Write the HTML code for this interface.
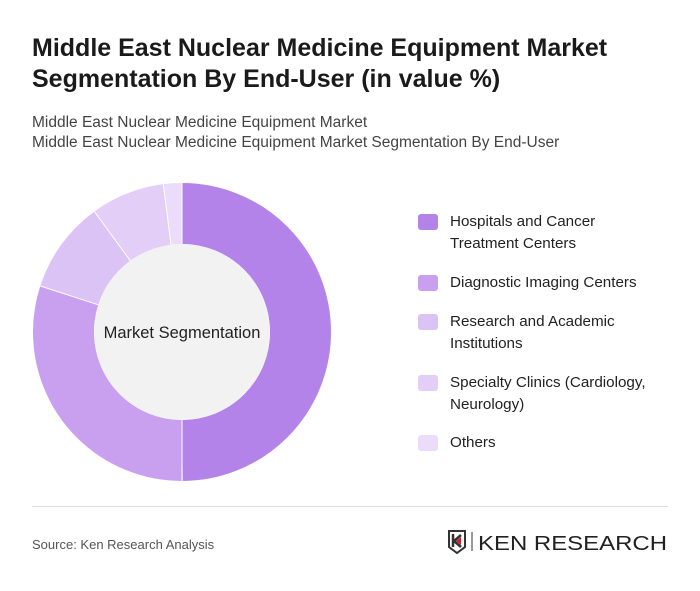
<!DOCTYPE html>
<html><head><meta charset="utf-8"><style>
body{margin:0;background:#fff;font-family:"Liberation Sans",sans-serif;}
.wrap{position:relative;width:700px;height:591px;overflow:hidden;}
h1{position:absolute;left:32px;top:33px;margin:0;font-size:25px;line-height:31px;font-weight:bold;color:#1a1a1a;letter-spacing:0;}
.sub{position:absolute;left:32px;top:113px;font-size:15.5px;line-height:20px;color:#444;}
.leg{position:absolute;left:418px;font-size:15.2px;line-height:22px;color:#222;}
.leg i{position:absolute;left:0;top:3px;width:20px;height:16px;border-radius:3px;}
.leg span{display:block;margin-left:32px;}
.src{position:absolute;left:32px;top:537px;font-size:13px;color:#555;}
.hr{position:absolute;left:32px;top:506px;width:636px;height:1px;background:#ddd;}
</style></head><body><div class="wrap">
<h1>Middle East Nuclear Medicine Equipment Market<br>Segmentation By End-User (in value %)</h1>
<div class="sub">Middle East Nuclear Medicine Equipment Market<br>Middle East Nuclear Medicine Equipment Market Segmentation By End-User</div>
<svg width="700" height="591" style="position:absolute;left:0;top:0">
<g transform="rotate(-90 182 332)" fill="none" stroke-width="61">
<circle cx="182" cy="332" r="118.5" pathLength="100" stroke="#b383ea" stroke-dasharray="50 100" stroke-dashoffset="0"/>
<circle cx="182" cy="332" r="118.5" pathLength="100" stroke="#c9a0ef" stroke-dasharray="30 100" stroke-dashoffset="-50"/>
<circle cx="182" cy="332" r="118.5" pathLength="100" stroke="#dbc3f5" stroke-dasharray="10 100" stroke-dashoffset="-80"/>
<circle cx="182" cy="332" r="118.5" pathLength="100" stroke="#e2cef7" stroke-dasharray="8 100" stroke-dashoffset="-90"/>
<circle cx="182" cy="332" r="118.5" pathLength="100" stroke="#ebdcf9" stroke-dasharray="2 100" stroke-dashoffset="-98"/>
</g>
<g stroke="#fff" stroke-width="1">
<line x1="182" y1="183" x2="182" y2="244"/><line x1="182" y1="420" x2="182" y2="481"/>
<line x1="40.3" y1="286" x2="98.3" y2="304.8"/><line x1="94.4" y1="211.5" x2="130.3" y2="260.8"/>
<line x1="163.3" y1="184.2" x2="171" y2="244.7"/>
</g>
<circle cx="182" cy="332" r="88" fill="#f2f2f2"/>
<text x="182" y="338" text-anchor="middle" font-size="16.5" fill="#222" font-family="Liberation Sans,sans-serif">Market Segmentation</text>
<g transform="translate(449,531)">
<path d="M0 0h16v16l-8 6-8-6z" fill="none" stroke="#333" stroke-width="2"/>
<path d="M4 3v13M5 10l7-6M5 10l7 6" stroke="#333" stroke-width="2.5" fill="none"/>
<path d="M7 10l5-4v8z" fill="#d0202a"/>
<line x1="23" y1="1" x2="23" y2="20" stroke="#333" stroke-width="1"/>
<text x="29" y="19" font-size="20" fill="#222" font-family="Liberation Sans,sans-serif" textLength="189" lengthAdjust="spacingAndGlyphs">KEN RESEARCH</text>
</g>
</svg>
<div class="leg" style="top:211px"><i style="background:#b383ea"></i><span>Hospitals and Cancer<br>Treatment Centers</span></div>
<div class="leg" style="top:272px"><i style="background:#c9a0ef"></i><span>Diagnostic Imaging Centers</span></div>
<div class="leg" style="top:311px"><i style="background:#dbc3f5"></i><span>Research and Academic<br>Institutions</span></div>
<div class="leg" style="top:372px"><i style="background:#e2cef7"></i><span>Specialty Clinics (Cardiology,<br>Neurology)</span></div>
<div class="leg" style="top:432px"><i style="background:#ebdcf9"></i><span>Others</span></div>
<div class="hr"></div>
<div class="src">Source: Ken Research Analysis</div>
</div></body></html>
